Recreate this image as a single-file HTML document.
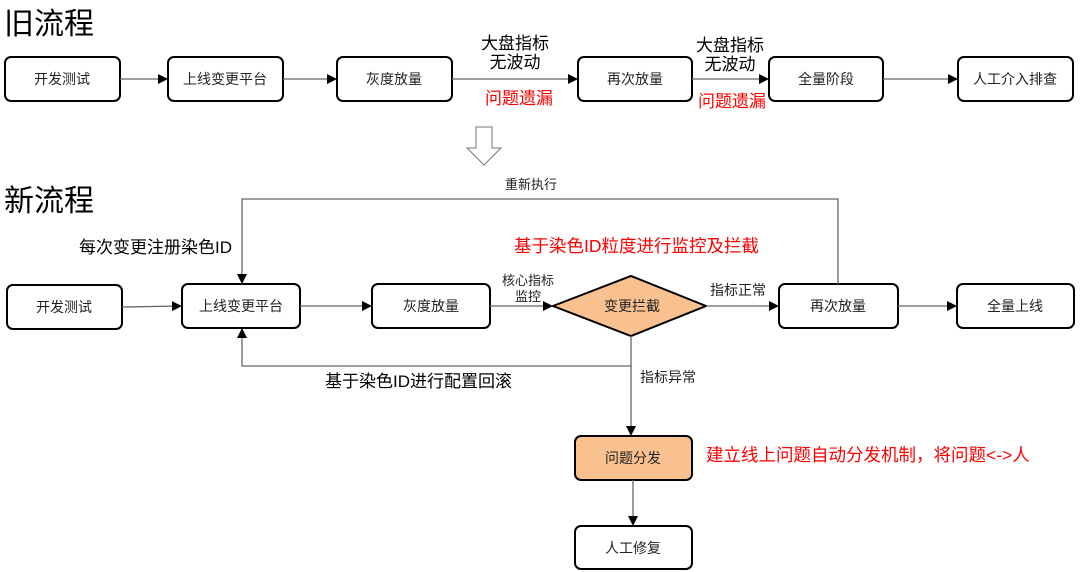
<!DOCTYPE html>
<html><head><meta charset="utf-8"><style>
html,body{margin:0;padding:0;background:#fff;}
svg{display:block;font-family:"Liberation Sans","Noto Sans CJK SC",sans-serif;}
</style></head><body>
<svg width="1080" height="572" viewBox="0 0 1080 572" xmlns="http://www.w3.org/2000/svg">
<defs>
<marker id="a" markerWidth="10" markerHeight="10" refX="9" refY="5" orient="auto" markerUnits="userSpaceOnUse">
<path d="M0,0 L10,5 L0,10 z" fill="#000"/></marker>
</defs>
<g fill="#000">
<text x="4" y="34" font-size="30">旧流程</text>
<text x="4" y="211" font-size="30">新流程</text>
</g>
<g stroke="#000" stroke-width="2" fill="#fff">
<rect x="5" y="57" width="115" height="44" rx="6"/>
<rect x="168" y="57" width="115" height="44" rx="6"/>
<rect x="337" y="57" width="115" height="44" rx="6"/>
<rect x="578" y="57" width="114" height="44" rx="6"/>
<rect x="769" y="57" width="114" height="44" rx="6"/>
<rect x="958" y="57" width="115" height="44" rx="6"/>
<rect x="7" y="285" width="115" height="44" rx="6"/>
<rect x="182" y="284" width="118" height="44" rx="6"/>
<rect x="372" y="284" width="118" height="44" rx="6"/>
<rect x="779" y="284" width="119" height="44" rx="6"/>
<rect x="957" y="284" width="117" height="44" rx="6"/>
<rect x="575" y="436" width="117" height="44" rx="6" fill="#F8C18F"/>
<rect x="575" y="526" width="117" height="43" rx="6"/>
<polygon points="553,306 631,276 706,306 631,336" fill="#F8C18F"/>
</g>
<g stroke="#666" stroke-width="1.3" fill="none" marker-end="url(#a)">
<line x1="120" y1="79" x2="167" y2="79"/>
<line x1="283" y1="79" x2="336" y2="79"/>
<line x1="452" y1="79" x2="577" y2="79"/>
<line x1="692" y1="79" x2="768" y2="79"/>
<line x1="883" y1="79" x2="957" y2="79"/>
<line x1="122" y1="307" x2="181" y2="306"/>
<line x1="300" y1="306" x2="371" y2="306"/>
<line x1="490" y1="306" x2="552" y2="306"/>
<line x1="706" y1="306" x2="778" y2="306"/>
<line x1="898" y1="306" x2="956" y2="306"/>
<polyline points="838,284 838,199 242,199 242,283"/>
<polyline points="631,336 631,366 242,366 242,329"/>
<line x1="631" y1="366" x2="631" y2="435"/>
<line x1="633" y1="480" x2="633" y2="525"/>
</g>
<path d="M476,127 H492 V148 H501 L484,165 L467,148 H476 Z" fill="#fff" stroke="#777" stroke-width="1"/>
<g font-size="14" fill="#222" text-anchor="middle">
<text x="62" y="84">开发测试</text>
<text x="225" y="84">上线变更平台</text>
<text x="394" y="84">灰度放量</text>
<text x="635" y="84">再次放量</text>
<text x="826" y="84">全量阶段</text>
<text x="1015" y="84">人工介入排查</text>
<text x="64" y="312">开发测试</text>
<text x="241" y="311">上线变更平台</text>
<text x="431" y="311">灰度放量</text>
<text x="632" y="311">变更拦截</text>
<text x="838" y="311">再次放量</text>
<text x="1015" y="311">全量上线</text>
<text x="633" y="463">问题分发</text>
<text x="633" y="553">人工修复</text>
<text x="531" y="189" font-size="13">重新执行</text>
<text x="528" y="285" font-size="13">核心指标</text>
<text x="528" y="301" font-size="13">监控</text>
<text x="738" y="295">指标正常</text>
</g>
<g font-size="17" fill="#000" text-anchor="middle">
<text x="515" y="49">大盘指标</text>
<text x="515" y="68">无波动</text>
<text x="730" y="51">大盘指标</text>
<text x="730" y="70">无波动</text>
</g>
<g font-size="17" fill="#f00" text-anchor="middle">
<text x="519" y="104">问题遗漏</text>
<text x="732" y="107">问题遗漏</text>
</g>
<text x="79" y="253" font-size="17" fill="#000">每次变更注册染色ID</text>
<text x="325" y="387" font-size="17" fill="#000">基于染色ID进行配置回滚</text>
<text x="640" y="382" font-size="14" fill="#222">指标异常</text>
<text x="514" y="252" font-size="17.5" fill="#f00">基于染色ID粒度进行监控及拦截</text>
<text x="706" y="461" font-size="17.5" fill="#f00">建立线上问题自动分发机制，将问题&lt;-&gt;人</text>
</svg>
</body></html>
